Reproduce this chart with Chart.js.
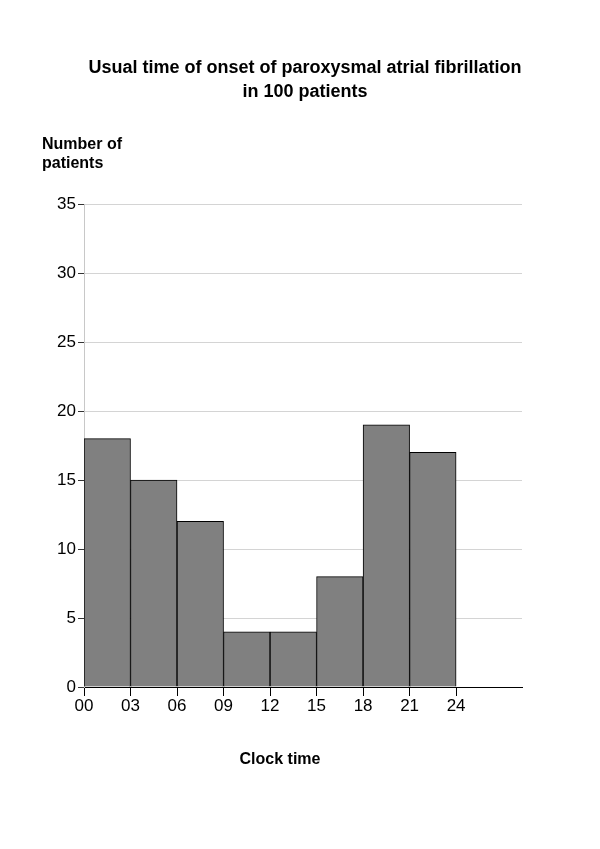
<!DOCTYPE html>
<html>
<head>
<meta charset="utf-8">
<script src="https://cdn.jsdelivr.net/npm/chart.js@4/dist/chart.umd.min.js"></script>
<style>
  html, body { margin: 0; padding: 0; background: #fff; }
  #wrap { width: 600px; height: 849px; }
</style>
</head>
<body>
<div id="wrap"><canvas id="chart" width="600" height="849"></canvas></div>
<script>
// data
const titleLines = ["Usual time of onset of paroxysmal atrial fibrillation", "in 100 patients"];
const yTitleLines = ["Number of", "patients"];
const xTitle = "Clock time";
const binStartHours = [0, 3, 6, 9, 12, 15, 18, 21];
const binHours = 3;
const patientCounts = [18, 15, 12, 4, 4, 8, 19, 17];
const xTickValues = [0, 3, 6, 9, 12, 15, 18, 21, 24];
const xTickLabels = ["00", "03", "06", "09", "12", "15", "18", "21", "24"];

const FONT = "'Liberation Sans', Arial, Helvetica, sans-serif";

const textPlugin = {
  id: "texts",
  afterDraw(chart) {
    const ctx = chart.ctx;
    ctx.save();
    ctx.fillStyle = "#000";
    ctx.textBaseline = "middle";
    ctx.font = "bold 18px " + FONT;
    ctx.textAlign = "center";
    ctx.fillText(titleLines[0], 305, 68);
    ctx.fillText(titleLines[1], 305, 92);
    ctx.font = "bold 16px " + FONT;
    ctx.textAlign = "left";
    ctx.fillText(yTitleLines[0], 42, 145);
    ctx.fillText(yTitleLines[1], 42, 164);
    ctx.textAlign = "center";
    ctx.fillText(xTitle, 280, 760);
    ctx.restore();
  }
};

const barData = binStartHours.map((h, i) => ({ x: h + binHours / 2, y: patientCounts[i] }));

new Chart(document.getElementById("chart").getContext("2d"), {
  type: "bar",
  data: {
    datasets: [{
      data: barData,
      backgroundColor: "#808080",
      borderColor: "#000",
      borderWidth: 1,
      barPercentage: 1,
      categoryPercentage: 1
    }]
  },
  options: {
    responsive: false,
    animation: false,
    layout: { padding: { top: 204, right: 78, bottom: 0, left: 0 } },
    plugins: { legend: { display: false }, tooltip: { enabled: false }, title: { display: false } },
    scales: {
      x: {
        type: "linear",
        min: 0,
        max: 28.25,
        offset: false,
        afterBuildTicks(scale) {
          scale.ticks = xTickValues.map(v => ({ value: v }));
        },
        afterFit(scale) { scale.height = 162; },
        ticks: {
          autoSkip: false,
          maxRotation: 0,
          padding: 0,
          color: "#000",
          font: { family: FONT, size: 17 },
          callback: (v) => xTickLabels[xTickValues.indexOf(v)]
        },
        grid: { offset: false, drawOnChartArea: false, drawTicks: true, tickLength: 9, tickColor: "#000" },
        border: { color: "#000", width: 1 }
      },
      y: {
        min: 0,
        max: 35,
        afterFit(scale) { scale.width = 84; },
        ticks: {
          stepSize: 5,
          padding: 2,
          color: "#000",
          font: { family: FONT, size: 17 }
        },
        grid: { color: "#d4d4d4", tickColor: "#333", tickLength: 6 },
        border: { color: "#c8c8c8", width: 1 }
      }
    }
  },
  plugins: [textPlugin]
});
</script>
</body>
</html>
